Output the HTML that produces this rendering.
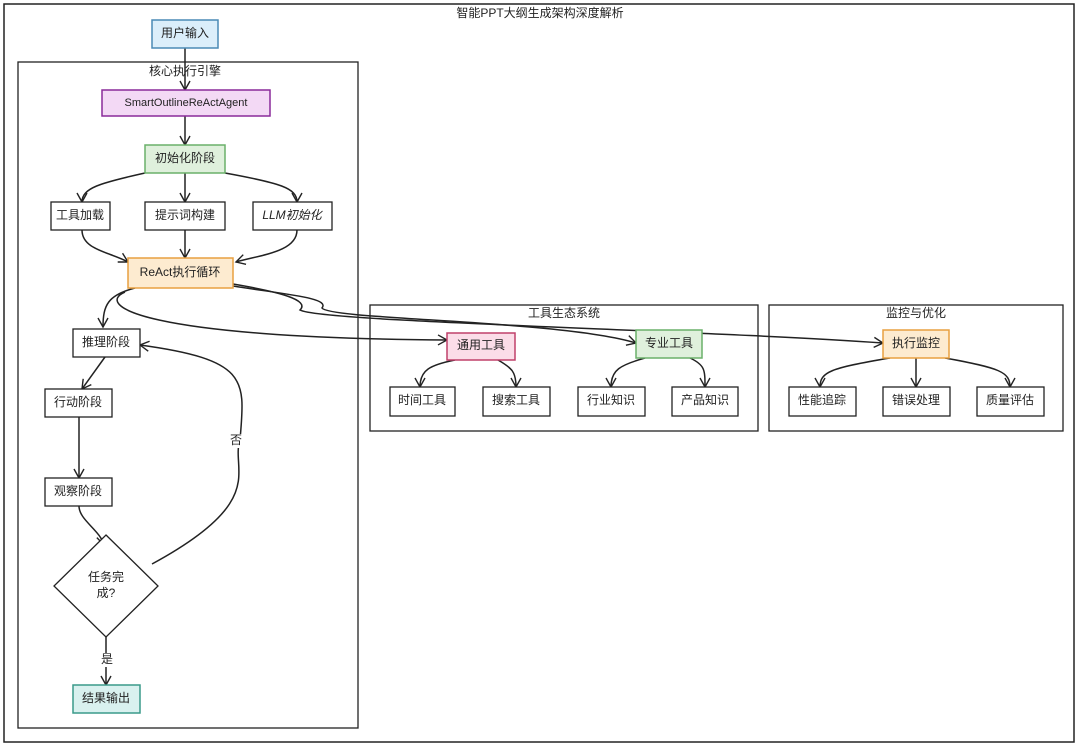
<!DOCTYPE html>
<html><head><meta charset="utf-8"><style>
html,body{margin:0;padding:0;background:#fff;}
svg{display:block;}
text{font-family:"Liberation Sans","Noto Sans CJK SC",sans-serif;font-size:12px;fill:#222;text-anchor:middle;dominant-baseline:middle;}
.b{stroke:#222;stroke-width:1.3;fill:#fff;}
.l{stroke:#222;stroke-width:1.5;fill:none;marker-end:url(#a);}
</style></head><body>
<svg width="1080" height="748" viewBox="0 0 1080 748">
<defs><marker id="a" markerWidth="12" markerHeight="12" refX="10" refY="6" orient="auto" markerUnits="userSpaceOnUse"><path d="M1,1 L10,6 L1,11" fill="none" stroke="#222" stroke-width="1.4"/></marker></defs>
<rect x="4" y="4" width="1070" height="738" fill="none" stroke="#222" stroke-width="1.5"/>
<text x="540" y="14">智能PPT大纲生成架构深度解析</text>

<rect x="18" y="62" width="340" height="666" fill="none" stroke="#222" stroke-width="1.3"/>
<text x="185" y="72">核心执行引擎</text>
<rect x="370" y="305" width="388" height="126" fill="none" stroke="#222" stroke-width="1.3"/>
<text x="564" y="314">工具生态系统</text>
<rect x="769" y="305" width="294" height="126" fill="none" stroke="#222" stroke-width="1.3"/>
<text x="916" y="314">监控与优化</text>

<!-- edges -->
<path class="l" d="M185,48 L185,90"/>
<path class="l" d="M185,116 L185,145"/>
<path class="l" d="M145,173 C100,183 82,188 82,202"/>
<path class="l" d="M185,173 L185,202"/>
<path class="l" d="M225,173 C280,183 297,188 297,202"/>
<path class="l" d="M82,230 C82,250 110,252 128,262"/>
<path class="l" d="M185,230 L185,258"/>
<path class="l" d="M297,230 C297,252 260,255 236,262"/>
<path class="l" d="M135,288 C108,295 103,305 103,327"/>
<path class="l" d="M125,292 C95,305 140,338 447,340"/>
<path class="l" d="M233,286 C290,295 330,298 322,308 C330,320 560,320 636,343"/>
<path class="l" d="M233,284 C280,292 310,300 300,310 C320,322 700,330 883,343"/>
<path class="l" d="M105,357 L82,389"/>
<path class="l" d="M79,417 L79,478"/>
<path class="l" d="M79,506 C79,520 100,530 104,545"/>
<path class="l" d="M106,637 L106,685"/>
<path class="l" d="M152,564 C270,500 230,470 240,440 C245,380 250,360 140,345"/>
<rect x="228" y="434" width="16" height="14" fill="#fff"/>
<text x="236" y="441">否</text>
<rect x="99" y="653" width="16" height="14" fill="#fff"/>
<text x="107" y="660">是</text>
<path class="l" d="M455,360 C430,365 420,370 420,387"/>
<path class="l" d="M498,360 C512,368 516,372 516,387"/>
<path class="l" d="M645,358 C620,365 611,370 611,387"/>
<path class="l" d="M690,358 C705,365 705,370 705,387"/>
<path class="l" d="M890,358 C830,368 820,372 820,387"/>
<path class="l" d="M916,358 L916,387"/>
<path class="l" d="M945,358 C1000,368 1010,372 1010,387"/>

<!-- nodes -->
<rect x="152" y="20" width="66" height="28" fill="#dbeefa" stroke="#4a8ab5" stroke-width="1.5"/><text x="185" y="34">用户输入</text>
<rect x="102" y="90" width="168" height="26" fill="#f3d9f5" stroke="#8a2a9a" stroke-width="1.5"/><text x="186" y="103" style="font-size:11px">SmartOutlineReActAgent</text>
<rect x="145" y="145" width="80" height="28" fill="#dff0dc" stroke="#6ab06a" stroke-width="1.5"/><text x="185" y="159">初始化阶段</text>
<rect class="b" x="51" y="202" width="59" height="28"/><text x="80" y="216">工具加载</text>
<rect class="b" x="145" y="202" width="80" height="28"/><text x="185" y="216">提示词构建</text>
<rect class="b" x="253" y="202" width="79" height="28"/><text x="292" y="216" style="font-style:italic">LLM初始化</text>
<rect x="128" y="258" width="105" height="30" fill="#fdebd0" stroke="#e8a040" stroke-width="1.5"/><text x="180" y="273">ReAct执行循环</text>
<rect class="b" x="73" y="329" width="67" height="28"/><text x="106" y="343">推理阶段</text>
<rect class="b" x="45" y="389" width="67" height="28"/><text x="78" y="403">行动阶段</text>
<rect class="b" x="45" y="478" width="67" height="28"/><text x="78" y="492">观察阶段</text>
<path class="b" d="M106,535 L158,586 L106,637 L54,586 Z"/><text x="106" y="578">任务完</text><text x="106" y="594">成?</text>
<rect x="73" y="685" width="67" height="28" fill="#d9f1ef" stroke="#3a9a8a" stroke-width="1.5"/><text x="106" y="699">结果输出</text>

<rect x="447" y="333" width="68" height="27" fill="#fbdde8" stroke="#c0406a" stroke-width="1.5"/><text x="481" y="346">通用工具</text>
<rect x="636" y="330" width="66" height="28" fill="#dff0dc" stroke="#6ab06a" stroke-width="1.5"/><text x="669" y="344">专业工具</text>
<rect class="b" x="390" y="387" width="65" height="29"/><text x="422" y="401">时间工具</text>
<rect class="b" x="483" y="387" width="67" height="29"/><text x="516" y="401">搜索工具</text>
<rect class="b" x="578" y="387" width="67" height="29"/><text x="611" y="401">行业知识</text>
<rect class="b" x="672" y="387" width="66" height="29"/><text x="705" y="401">产品知识</text>

<rect x="883" y="330" width="66" height="28" fill="#fdebd0" stroke="#e8a040" stroke-width="1.5"/><text x="916" y="344">执行监控</text>
<rect class="b" x="789" y="387" width="67" height="29"/><text x="822" y="401">性能追踪</text>
<rect class="b" x="883" y="387" width="67" height="29"/><text x="916" y="401">错误处理</text>
<rect class="b" x="977" y="387" width="67" height="29"/><text x="1010" y="401">质量评估</text>
</svg>
</body></html>
